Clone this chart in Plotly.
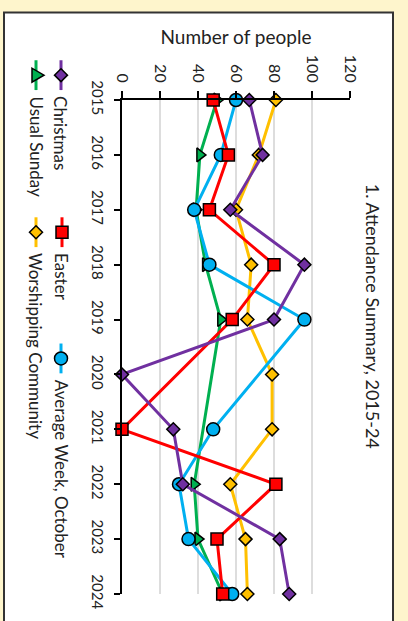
import plotly.graph_objects as go

# ---------------- data ----------------
years = [2015, 2016, 2017, 2018, 2019, 2020, 2021, 2022, 2023, 2024]
christmas = [67, 74, 57, 96, 80, 0, 27, 32, 83, 88]
easter = [48, 56, 46, 80, 58, None, 0, 81, 50, 53]
average_week = [60, 52, 38, 46, 96, None, 48, 30, 35, 58]
usual_sunday = [50, 41, 39, 44, 52, None, None, 38, 40, 53]
worshipping = [81, 72, 60, 68, 66, 79, 79, 57, 65, 66]

series_names = ["Christmas", "Easter", "Average Week, October",
                "Usual Sunday", "Worshipping Community"]
series_values = [christmas, easter, average_week, usual_sunday, worshipping]
value_ticks = [0, 20, 40, 60, 80, 100, 120]

title_text = "1. Attendance Summary, 2015-24"
axis_title = "Number of people"

# ---------------- styles ----------------
colors = ["#7030A0", "#FF0000", "#00B0F0", "#00B050", "#FFC000"]
symbols = ["diamond", "square", "circle", "triangle-right", "diamond"]
sizes = [10, 12, 13, 12, 10]

W, H = 408, 621
L, R, T, B = 122, 58, 100, 24
PW = W - L - R
PH = H - T - B
FONT = "Lato, 'Open Sans', sans-serif"
TXT = "#222222"


def px(x):
    return (x - L) / PW


def py(y):
    return 1 - (y - T) / PH


fig = go.Figure()
for i in [4, 3, 2, 1, 0]:
    fig.add_trace(go.Scatter(
        x=series_values[i], y=years, name=series_names[i],
        mode="lines+markers", connectgaps=True, cliponaxis=False,
        line=dict(color=colors[i], width=3),
        marker=dict(symbol=symbols[i], size=sizes[i], color=colors[i],
                    line=dict(color="black", width=1.5)),
        showlegend=False,
    ))

shapes = [dict(type="rect", xref="paper", yref="paper",
               x0=px(4), x1=px(393), y0=py(12), y1=py(626),
               fillcolor="white", line=dict(color="#333333", width=2),
               layer="below")]
annotations = [dict(text=title_text, xref="paper", yref="paper",
                    x=px(373), y=py(317), xanchor="center", yanchor="middle",
                    textangle=90, showarrow=False,
                    font=dict(family=FONT, size=18, color=TXT))]

# hand-built rotated legend
legend_pos = [(61, 75), (62, 233), (61, 360), (36, 75), (36, 233)]
for i, (cx, cy) in enumerate(legend_pos):
    shapes.append(dict(type="line", xref="paper", yref="paper",
                       x0=px(cx), x1=px(cx), y0=py(cy - 15), y1=py(cy + 15),
                       line=dict(color=colors[i], width=3)))
    sym = symbols[i]
    mk = dict(xref="paper", yref="paper", fillcolor=colors[i],
              line=dict(color="black", width=1.5))
    if sym == "diamond":
        h = 6.5
        path = "M{},{} L{},{} L{},{} L{},{} Z".format(
            px(cx), py(cy - h), px(cx + h), py(cy), px(cx), py(cy + h),
            px(cx - h), py(cy))
        shapes.append(dict(type="path", path=path, **mk))
    elif sym == "square":
        h = 6
        shapes.append(dict(type="rect", x0=px(cx - h), x1=px(cx + h),
                           y0=py(cy - h), y1=py(cy + h), **mk))
    elif sym == "circle":
        h = 6.5
        shapes.append(dict(type="circle", x0=px(cx - h), x1=px(cx + h),
                           y0=py(cy - h), y1=py(cy + h), **mk))
    else:
        path = "M{},{} L{},{} L{},{} Z".format(
            px(cx - 4), py(cy - 7), px(cx - 4), py(cy + 7), px(cx + 8), py(cy))
        shapes.append(dict(type="path", path=path, **mk))
    annotations.append(dict(text=series_names[i], xref="paper", yref="paper",
                            x=px(cx), y=py(cy + 19), xanchor="center",
                            yanchor="top", textangle=90, showarrow=False,
                            font=dict(family=FONT, size=17, color=TXT)))

fig.update_layout(
    width=W, height=H,
    margin=dict(l=L, r=R, t=T, b=B, pad=0),
    paper_bgcolor="#FEF5CC", plot_bgcolor="white",
    font=dict(family=FONT, color=TXT),
    shapes=shapes, annotations=annotations,
    xaxis=dict(range=[0, 120], side="top", tickvals=value_ticks,
               tickangle=90, ticks="outside", ticklen=7, tickwidth=1.5,
               tickcolor="black", showline=True, linecolor="black",
               linewidth=1.5, showgrid=True, gridcolor="#DDDDDD",
               gridwidth=2, zeroline=False, ticklabelstandoff=3,
               tickfont=dict(family=FONT, size=16, color=TXT),
               title=dict(text=axis_title, standoff=5,
                          font=dict(family=FONT, size=19, color=TXT))),
    yaxis=dict(range=[2024, 2015], tickvals=years, tickangle=90,
               ticks="outside", ticklen=6, tickwidth=1.5, tickcolor="black",
               showline=True, linecolor="black", linewidth=1.5,
               showgrid=False, zeroline=False, ticklabelstandoff=4,
               tickfont=dict(family=FONT, size=15, color=TXT)),
)

fig.write_html("out.html", config={"displayModeBar": False},
               post_script="document.body.style.margin='0';")
